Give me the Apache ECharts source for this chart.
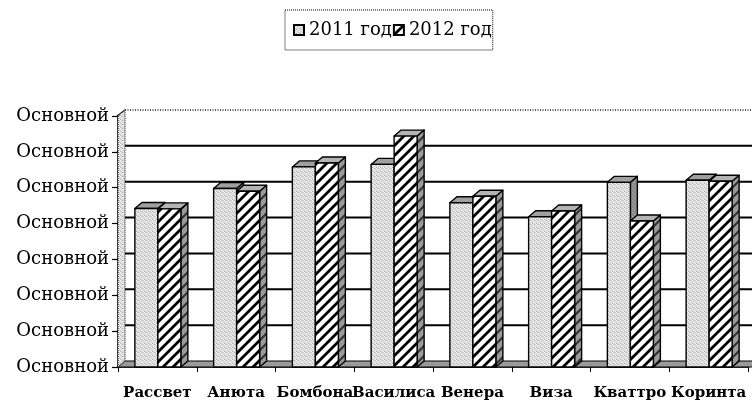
<!DOCTYPE html>
<html>
<head>
<meta charset="utf-8">
<script src="https://cdn.jsdelivr.net/npm/echarts@6/dist/echarts.min.js"></script>
<style>
  html, body { margin: 0; padding: 0; background: #fff; }
  #chart { width: 752px; height: 401px; }
</style>
</head>
<body>
<div id="chart"></div>
<script>
// Sales by variety, two years
const categories = ['Рассвет', 'Анюта', 'Бомбона', 'Василиса', 'Венера', 'Виза', 'Кваттро', 'Коринта'];
const values2011 = [44.2, 49.8, 55.8, 56.5, 45.8, 41.9, 51.5, 52.1];
const values2012 = [44.1, 49.0, 56.9, 64.4, 47.6, 43.5, 40.7, 51.8];
const seriesNames = ['2011 год', '2012 год'];
const yTicks = [0, 10, 20, 30, 40, 50, 60, 70];
const yTickLabels = ['Основной', 'Основной', 'Основной', 'Основной', 'Основной', 'Основной', 'Основной', 'Основной'];

const FONT = 'DejaVu Serif';
const DX = 7, DY = -6;          // depth offset of the 3D look

// ---- fill patterns ----
function makeCanvas(w, h, draw) {
  const c = document.createElement('canvas');
  c.width = w; c.height = h;
  draw(c.getContext('2d'), w, h);
  return c;
}
const stipple = makeCanvas(4, 4, (g) => {
  g.fillStyle = '#d8d8d8'; g.fillRect(0, 0, 4, 4);
  g.fillStyle = '#f6f6f6';
  g.fillRect(0, 0, 1, 1); g.fillRect(2, 1, 1, 1); g.fillRect(1, 2, 1, 1); g.fillRect(3, 3, 1, 1);
  g.fillStyle = '#b4b4b4';
  g.fillRect(2, 0, 1, 1); g.fillRect(0, 3, 1, 1);
});
const stippleDark = makeCanvas(4, 4, (g) => {
  g.fillStyle = '#8c8c8c'; g.fillRect(0, 0, 4, 4);
  g.fillStyle = '#a8a8a8';
  g.fillRect(0, 0, 1, 1); g.fillRect(2, 2, 1, 1);
});
function diag(size, bg, fg, lw) {
  return makeCanvas(size, size, (g) => {
    g.fillStyle = bg; g.fillRect(0, 0, size, size);
    g.strokeStyle = fg; g.lineWidth = lw;
    g.beginPath();
    g.moveTo(-1, size + 1); g.lineTo(size + 1, -1);
    g.moveTo(-size / 2 - 1, size / 2 + 1); g.lineTo(size / 2 + 1, -size / 2 - 1);
    g.moveTo(size / 2 - 1, size * 1.5 + 1); g.lineTo(size * 1.5 + 1, size / 2 - 1);
    g.stroke();
  });
}
const hatch = diag(10, '#fff', '#000', 2.8);
const hatchDark = diag(10, '#9a9a9a', '#333', 2.2);
const pat = (c) => ({ image: c, repeat: 'repeat' });

const faces = [
  { front: pat(stipple), top: '#a0a0a0', side: pat(stippleDark) },
  { front: pat(hatch), top: '#b4b4b4', side: pat(hatchDark) }
];

// ---- 3D column drawn from the value scale ----
function columnRenderer(k) {
  return function (params, api) {
    const cat = api.value(0), val = api.value(1);
    const base = api.coord([cat, 0]);
    const top = api.coord([cat, val]);
    const band = api.size([1, 0])[0];
    const bw = band * 0.292;
    const x0 = base[0] - bw + 0.5 + k * bw;
    const x1 = x0 + bw;
    const yT = top[1], yB = base[1];
    const edge = { stroke: '#000', lineWidth: 1.4, lineJoin: 'round' };
    const f = faces[k];
    return {
      type: 'group',
      children: [
        { type: 'polygon', shape: { points: [[x1, yT], [x1 + DX, yT + DY], [x1 + DX, yB + DY], [x1, yB]] },
          style: Object.assign({ fill: f.side }, edge) },
        { type: 'polygon', shape: { points: [[x0, yT], [x0 + DX, yT + DY], [x1 + DX, yT + DY], [x1, yT]] },
          style: Object.assign({ fill: f.top }, edge) },
        { type: 'rect', shape: { x: x0, y: yT, width: bw, height: yB - yT },
          style: Object.assign({ fill: f.front }, edge) }
      ]
    };
  };
}

// ---- back wall, floor and side wall ----
function wallRenderer(params, api) {
  const cs = params.coordSys;
  const xL = cs.x, xR = cs.x + cs.width;
  const yB = api.coord([0, yTicks[0]])[1];
  const yTop = api.coord([0, yTicks[yTicks.length - 1]])[1];
  const kids = [];
  yTicks.forEach((t, i) => {
    const y = api.coord([0, t])[1];
    if (i > 0 && i < yTicks.length - 1) {
      kids.push({ type: 'line', shape: { x1: xL + DX, y1: y + DY, x2: 760, y2: y + DY },
        style: { stroke: '#000', lineWidth: 2 } });
    }
    // connector from the front tick to the wall
    kids.push({ type: 'line', shape: { x1: xL - 1, y1: y, x2: xL + DX, y2: y + DY },
      style: { stroke: '#000', lineWidth: 1.2 } });
  });
  kids.push({ type: 'line', shape: { x1: xL + DX, y1: yTop + DY, x2: 760, y2: yTop + DY },
    style: { stroke: '#222', lineWidth: 1.6, lineDash: [1, 1.5] } });
  // floor
  kids.push({ type: 'polygon', shape: { points: [[xL, yB], [xL + DX, yB + DY], [xR + DX + 10, yB + DY], [xR + 10, yB]] },
    style: { fill: '#9a9a9a', stroke: '#000', lineWidth: 1 } });
  // side wall
  kids.push({ type: 'polygon', shape: { points: [[xL, yB], [xL, yTop], [xL + DX, yTop + DY], [xL + DX, yB + DY]] },
    style: { fill: pat(stipple), stroke: '#333', lineWidth: 1.2, lineDash: [1, 1] } });
  return { type: 'group', children: kids };
}

const chart = echarts.init(document.getElementById('chart'), null, { renderer: 'canvas' });

chart.setOption({
  animation: false,
  backgroundColor: '#fff',
  textStyle: { fontFamily: FONT },
  legend: {
    left: 285, top: 10,
    padding: [11, 1, 11, 8],
    itemGap: 1,
    itemWidth: 10, itemHeight: 10,
    borderColor: '#000', borderWidth: 1, borderType: 'dotted',
    textStyle: { fontFamily: FONT, fontSize: 18, color: '#000' },
    data: [
      { name: seriesNames[0], icon: 'rect', itemStyle: { color: pat(stipple), borderColor: '#000', borderWidth: 2 } },
      { name: seriesNames[1], icon: 'rect', itemStyle: { color: pat(hatch), borderColor: '#000', borderWidth: 2 } }
    ]
  },
  grid: { left: 118, right: 4, top: 116, bottom: 34 },
  xAxis: {
    type: 'category',
    data: categories,
    axisLine: { show: true, lineStyle: { color: '#000', width: 1.5 } },
    axisTick: { show: true, length: 5, lineStyle: { color: '#000', width: 1 } },
    axisLabel: { interval: 0, margin: 19, fontFamily: FONT, fontWeight: 'bold', fontSize: 15, color: '#000' },
    splitLine: { show: false }
  },
  yAxis: {
    type: 'value',
    min: 0, max: 70, interval: 10,
    axisLine: { show: true, lineStyle: { color: '#000', width: 1.5 } },
    axisTick: { show: true, length: 6, lineStyle: { color: '#000', width: 1.2 } },
    axisLabel: {
      margin: 9, fontFamily: FONT, fontSize: 18, color: '#000',
      formatter: (v) => yTickLabels[yTicks.indexOf(v)]
    },
    splitLine: { show: false }
  },
  series: [
    {
      type: 'custom', name: 'wall', z: 1, silent: true,
      renderItem: wallRenderer,
      data: [[0, 0]],
      encode: { x: 0, y: 1 }
    },
    {
      type: 'custom', name: seriesNames[0], z: 2,
      renderItem: columnRenderer(0),
      itemStyle: { color: pat(stipple) },
      data: values2011.map((v, i) => [i, v]),
      encode: { x: 0, y: 1 }
    },
    {
      type: 'custom', name: seriesNames[1], z: 3,
      renderItem: columnRenderer(1),
      itemStyle: { color: pat(hatch) },
      data: values2012.map((v, i) => [i, v]),
      encode: { x: 0, y: 1 }
    }
  ]
});
</script>
</body>
</html>
